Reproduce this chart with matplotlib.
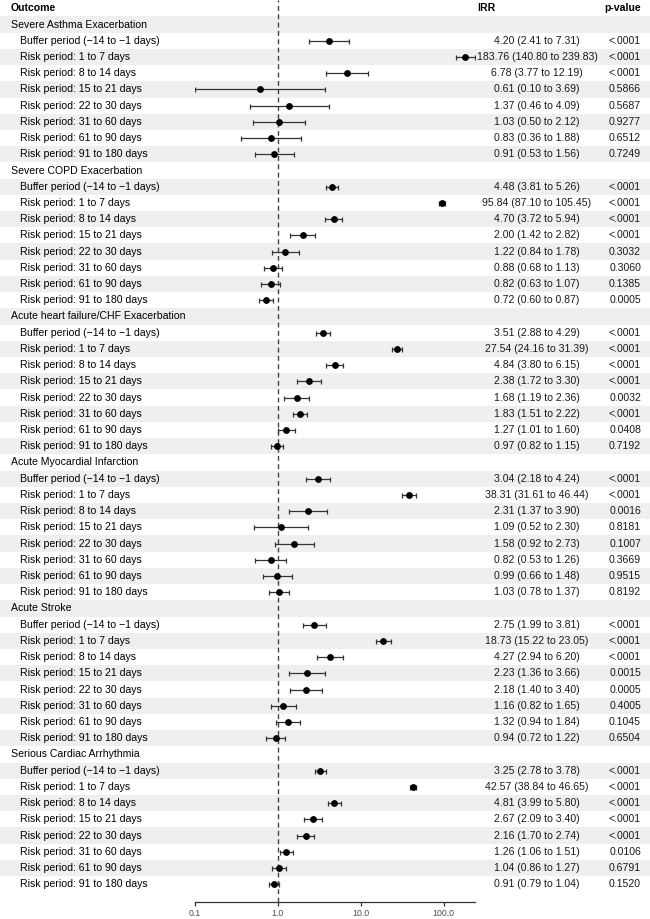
import numpy as np
import matplotlib
matplotlib.use("Agg")
import matplotlib.pyplot as plt
from matplotlib.patches import Rectangle

plt.rcParams['font.family'] = ['Liberation Sans', 'DejaVu Sans']

# ---------------- data ----------------
outcomes = ["Severe Asthma Exacerbation", "Severe COPD Exacerbation",
            "Acute heart failure/CHF Exacerbation", "Acute Myocardial Infarction",
            "Acute Stroke", "Serious Cardiac Arrhythmia"]
periods = ["Buffer period (\u221214 to \u22121 days)", "Risk period: 1 to 7 days",
           "Risk period: 8 to 14 days", "Risk period: 15 to 21 days",
           "Risk period: 22 to 30 days", "Risk period: 31 to 60 days",
           "Risk period: 61 to 90 days", "Risk period: 91 to 180 days"]

irr_est = [[4.20, 183.76, 6.78, 0.61, 1.37, 1.03, 0.83, 0.91],
           [4.48, 95.84, 4.70, 2.00, 1.22, 0.88, 0.82, 0.72],
           [3.51, 27.54, 4.84, 2.38, 1.68, 1.83, 1.27, 0.97],
           [3.04, 38.31, 2.31, 1.09, 1.58, 0.82, 0.99, 1.03],
           [2.75, 18.73, 4.27, 2.23, 2.18, 1.16, 1.32, 0.94],
           [3.25, 42.57, 4.81, 2.67, 2.16, 1.26, 1.04, 0.91]]
irr_lo = [[2.41, 140.80, 3.77, 0.10, 0.46, 0.50, 0.36, 0.53],
          [3.81, 87.10, 3.72, 1.42, 0.84, 0.68, 0.63, 0.60],
          [2.88, 24.16, 3.80, 1.72, 1.19, 1.51, 1.01, 0.82],
          [2.18, 31.61, 1.37, 0.52, 0.92, 0.53, 0.66, 0.78],
          [1.99, 15.22, 2.94, 1.36, 1.40, 0.82, 0.94, 0.72],
          [2.78, 38.84, 3.99, 2.09, 1.70, 1.06, 0.86, 0.79]]
irr_hi = [[7.31, 239.83, 12.19, 3.69, 4.09, 2.12, 1.88, 1.56],
          [5.26, 105.45, 5.94, 2.82, 1.78, 1.13, 1.07, 0.87],
          [4.29, 31.39, 6.15, 3.30, 2.36, 2.22, 1.60, 1.15],
          [4.24, 46.44, 3.90, 2.30, 2.73, 1.26, 1.48, 1.37],
          [3.81, 23.05, 6.20, 3.66, 3.40, 1.65, 1.84, 1.22],
          [3.78, 46.65, 5.80, 3.40, 2.74, 1.51, 1.27, 1.04]]
p_values = [["<.0001", "<.0001", "<.0001", "0.5866", "0.5687", "0.9277", "0.6512", "0.7249"],
            ["<.0001", "<.0001", "<.0001", "<.0001", "0.3032", "0.3060", "0.1385", "0.0005"],
            ["<.0001", "<.0001", "<.0001", "<.0001", "0.0032", "<.0001", "0.0408", "0.7192"],
            ["<.0001", "<.0001", "0.0016", "0.8181", "0.1007", "0.3669", "0.9515", "0.8192"],
            ["<.0001", "<.0001", "<.0001", "0.0015", "0.0005", "0.4005", "0.1045", "0.6504"],
            ["<.0001", "<.0001", "<.0001", "<.0001", "<.0001", "0.0106", "0.6791", "0.1520"]]
x_ticks = [0.1, 1.0, 10.0, 100.0]

# ---------------- layout (pixel units) ----------------
W, H = 650, 919
row_h = 16.22
row0 = 8.3
axis_y = 902
fs = 7.6
grey = '#EFEFEF'

fig = plt.figure(figsize=(W / 100, H / 100), dpi=100)

# background axes: shading + text
bg = fig.add_axes([0, 0, 1, 1])
bg.set_xlim(0, W)
bg.set_ylim(H, 0)
bg.axis('off')

n_rows = 1 + len(outcomes) * (1 + len(periods))
for i in range(n_rows):
    if i % 2 == 1:
        bg.add_patch(Rectangle((0, row0 + row_h * i - row_h / 2), W, row_h,
                               facecolor=grey, edgecolor='none', zorder=0))

bg.text(11, row0, "Outcome", fontsize=fs, fontweight='bold', va='center', ha='left')
bg.text(477, row0, "IRR", fontsize=fs, fontweight='bold', va='center', ha='left')
bg.text(641, row0, "p-value", fontsize=fs, fontweight='bold', va='center', ha='right')

ys, est_all, lo_all, hi_all = [], [], [], []
r = 1
for g, name in enumerate(outcomes):
    bg.text(11, row0 + row_h * r, name, fontsize=fs, va='center', ha='left')
    r += 1
    for k, per in enumerate(periods):
        y = row0 + row_h * r
        bg.text(20, y, per, fontsize=fs, va='center', ha='left')
        e, lo, hi = irr_est[g][k], irr_lo[g][k], irr_hi[g][k]
        bg.text(537, y, f"{e:.2f} ({lo:.2f} to {hi:.2f})", fontsize=fs,
                va='center', ha='center', color='#1a1a1a')
        bg.text(641, y, p_values[g][k], fontsize=fs, va='center', ha='right',
                color='#1a1a1a')
        ys.append(y)
        est_all.append(e)
        lo_all.append(lo)
        hi_all.append(hi)
        r += 1

# forest axes
ax = fig.add_axes([195 / W, (H - axis_y) / H, 280 / W, axis_y / H])
ax.patch.set_alpha(0)
ax.set_xscale('log')
ax.set_xlim(0.1, max(max(h) for h in irr_hi))
ax.set_ylim(axis_y, 0)

est_all = np.array(est_all)
lo_all = np.array(lo_all)
hi_all = np.array(hi_all)
ax.errorbar(est_all, ys, xerr=[est_all - lo_all, hi_all - est_all], fmt='o',
            color='black', ecolor='#333333', elinewidth=0.9, capsize=1.8,
            capthick=0.9, markersize=3.9, zorder=3)
ax.axvline(1.0, color='#444444', linestyle=(0, (3.5, 2.5)), linewidth=1.0, zorder=2)

for s in ['top', 'right', 'left']:
    ax.spines[s].set_visible(False)
ax.spines['bottom'].set_color('#333333')
ax.spines['bottom'].set_linewidth(0.9)
ax.set_yticks([])
ax.set_xticks(x_ticks)
ax.set_xticklabels([f"{t:.1f}" for t in x_ticks])
ax.minorticks_off()
ax.tick_params(axis='x', labelsize=6.3, labelcolor='#4d4d4d', color='#333333',
               length=3, width=0.9, pad=2)

fig.savefig("out.png", dpi=100)
